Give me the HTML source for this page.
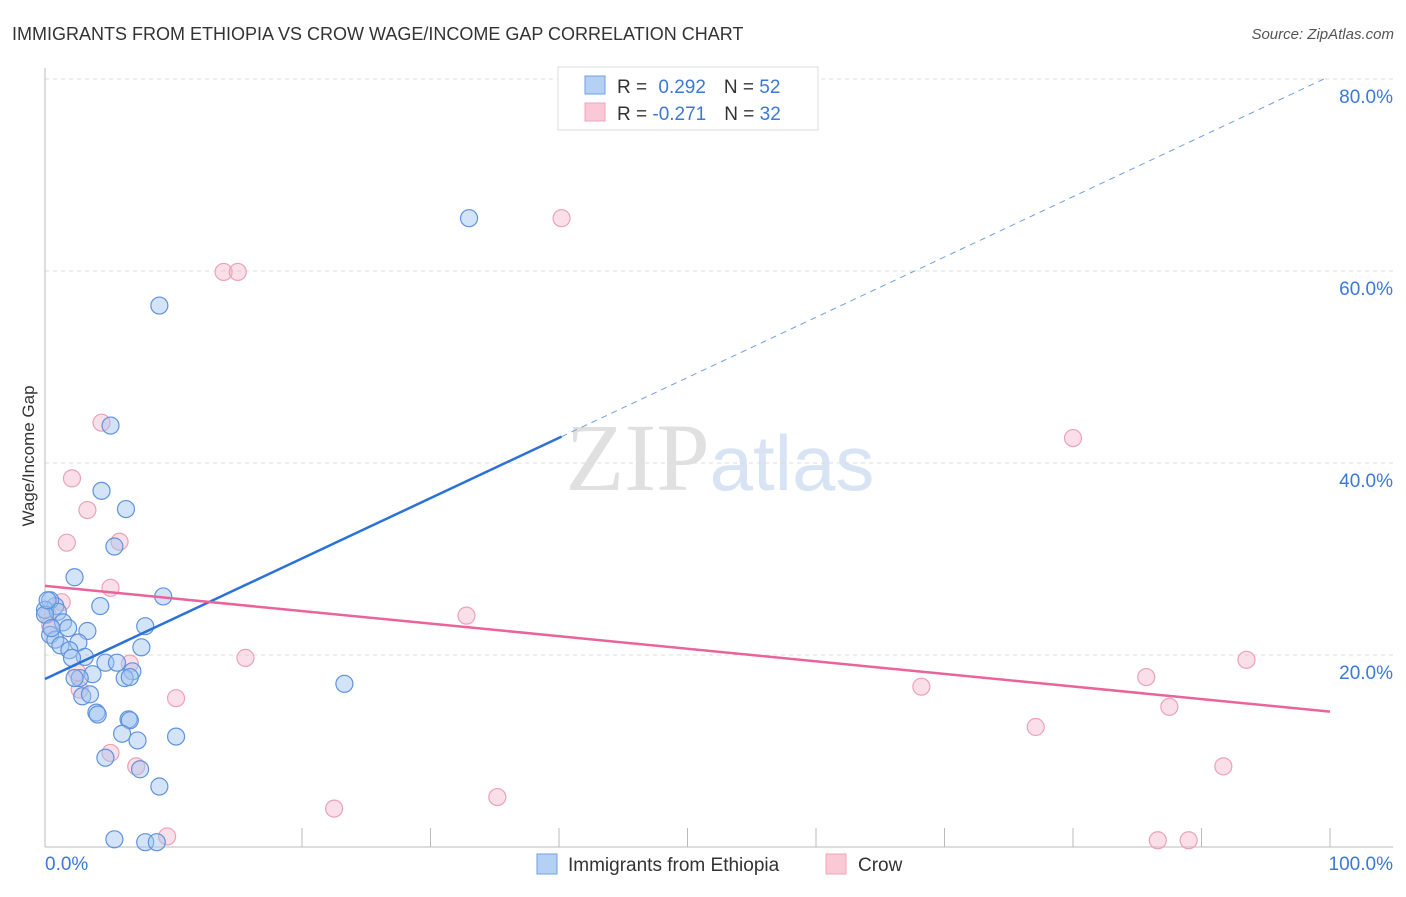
<!DOCTYPE html>
<html><head><meta charset="utf-8">
<style>
body{margin:0;background:#fff;font-family:"Liberation Sans",sans-serif;}
svg text{font-family:"Liberation Sans",sans-serif;}
</style></head>
<body>
<svg id="chart" width="1406" height="892" viewBox="0 0 1406 892" xmlns="http://www.w3.org/2000/svg">
<text x="12" y="40" font-size="18" fill="#333">IMMIGRANTS FROM ETHIOPIA VS CROW WAGE/INCOME GAP CORRELATION CHART</text>
<text x="1394" y="39" font-size="15" fill="#555" text-anchor="end" font-style="italic">Source: ZipAtlas.com</text>
<text x="720" y="490" font-size="96" text-anchor="middle" fill="#ddd" opacity="0.7"><tspan font-family="Liberation Serif" fill="#d4d4d4">ZIP</tspan><tspan fill="#c8daf0" font-size="78">atlas</tspan></text>
<text transform="translate(34,456) rotate(-90)" font-size="17" fill="#333" text-anchor="middle">Wage/Income Gap</text>
<g id="grid"></g>
<g id="axes"></g>
<g id="points"></g>
<g id="lines"></g>
<g>
<rect x="558" y="67" width="260" height="63" fill="#fff" stroke="#ddd"/>
<rect x="585" y="76" width="20" height="18" fill="#b5d0f5" stroke="#6f9fe0"/>
<rect x="585" y="103" width="20" height="18" fill="#fbc8d6" stroke="#eda5bb"/>
<text x="617" y="93" font-size="19" fill="#333">R = <tspan fill="#3b78d8" dx="6">0.292</tspan><tspan dx="18" fill="#333">N = </tspan><tspan fill="#3b78d8">52</tspan></text>
<text x="617" y="120" font-size="19" fill="#333">R = <tspan fill="#3b78d8">-0.271</tspan><tspan dx="18" fill="#333">N = </tspan><tspan fill="#3b78d8">32</tspan></text>
</g>
<g>
<rect x="537" y="854" width="20" height="20" fill="#b5d0f5" stroke="#6f9fe0"/>
<text x="568" y="871" font-size="19" fill="#333">Immigrants from Ethiopia</text>
<rect x="826" y="854" width="20" height="20" fill="#fbc8d6" stroke="#eda5bb"/>
<text x="858" y="871" font-size="19" fill="#333">Crow</text>
</g>
</svg>
<script>
const yTicks=[20,40,60,80];
const yTickLabels=["20.0%","40.0%","60.0%","80.0%"];
const xTickLabels=["0.0%","100.0%"];
const blueX=[33.0,8.9,5.1,4.4,6.3,5.4,2.3,9.2,4.3,0.8,0.4,0.0,1.0,1.4,1.8,3.3,7.8,0.4,0.8,1.2,2.6,1.9,3.1,2.1,7.5,4.7,5.6,6.8,3.7,2.7,2.3,6.2,6.6,23.3,2.9,3.5,4.0,4.1,6.5,6.6,6.0,7.2,10.2,4.7,7.4,8.9,5.4,7.8,8.7,0.0,0.2,0.5];
const blueY=[65.5,56.4,43.9,37.1,35.2,31.3,28.1,26.1,25.1,25.1,25.7,24.7,24.5,23.4,22.8,22.5,23.0,22.1,21.6,21.0,21.3,20.5,19.8,19.7,20.8,19.2,19.2,18.3,18.0,17.6,17.6,17.6,17.7,17.0,15.7,15.9,14.0,13.8,13.3,13.2,11.8,11.1,11.5,9.3,8.1,6.3,0.8,0.5,0.5,24.2,25.7,22.8];
const pinkX=[40.2,13.9,15.0,4.4,2.1,3.3,1.7,5.8,5.1,1.3,0.2,0.4,32.8,15.6,6.6,2.5,2.7,10.2,68.2,80.0,85.7,87.5,93.5,77.1,91.7,5.1,7.1,22.5,35.2,9.5,86.6,89.0];
const pinkY=[65.5,59.9,59.9,44.2,38.4,35.1,31.7,31.8,27.0,25.5,24.2,23.1,24.1,19.7,19.1,18.2,16.4,15.5,16.7,42.6,17.7,14.6,19.5,12.5,8.4,9.8,8.4,4.0,5.2,1.1,0.7,0.7];
const blueTrend=[17.5,80.3];
const pinkTrend=[27.2,14.1];
const NS="http://www.w3.org/2000/svg";
const X0=45,X1=1330,Y0=847,PPY=9.6;
function sx(v){return X0+(X1-X0)*v/100;}
function sy(v){return Y0-v*PPY;}
function mk(tag,attrs,parent){const e=document.createElementNS(NS,tag);for(const k in attrs)e.setAttribute(k,attrs[k]);document.getElementById(parent).appendChild(e);return e;}
yTicks.forEach((t,i)=>{
 const g=mk('line',{x1:45,x2:1393,y1:sy(t),y2:sy(t),stroke:'#ddd','stroke-dasharray':'4,4'},'grid');
 
 
 const l=mk('text',{x:1393,y:sy(t)+24,'font-size':19,fill:'#3b78d8','text-anchor':'end'},'grid');
 l.textContent=yTickLabels[i];
 
 
});
const ax=mk('line',{x1:45,x2:1393,y1:847,y2:847,stroke:'#bbb'},'axes');


const ay=mk('line',{x1:45,x2:45,y1:68,y2:847,stroke:'#bbb'},'axes');


for(let i=2;i<=10;i++){
 const t=mk('line',{x1:sx(i*10),x2:sx(i*10),y1:828,y2:847,stroke:'#bbb'},'axes');
 
 
}
const xl0=mk('text',{x:45,y:870,'font-size':19,fill:'#3b78d8'},'axes');
xl0.textContent=xTickLabels[0];


const xl1=mk('text',{x:1393,y:870,'font-size':19,fill:'#3b78d8','text-anchor':'end'},'axes');
xl1.textContent=xTickLabels[1];


pinkX.forEach((x,i)=>{
 const c=mk('circle',{cx:sx(x),cy:sy(pinkY[i]),r:8.5,fill:'rgba(246,176,198,0.4)',stroke:'#eba2b8','stroke-width':1.2},'points');
 
 
});
blueX.forEach((x,i)=>{
 const c=mk('circle',{cx:sx(x),cy:sy(blueY[i]),r:8.5,fill:'rgba(160,196,240,0.45)',stroke:'#5f93dd','stroke-width':1.2},'points');
 
 
});
const bslope=(blueTrend[1]-blueTrend[0])/100;
const bl=mk('line',{x1:sx(0),y1:sy(blueTrend[0]),x2:sx(40.2),y2:sy(blueTrend[0]+bslope*40.2),stroke:'#2a72d8','stroke-width':2.5},'lines');


const bd=mk('line',{x1:sx(40.2),y1:sy(blueTrend[0]+bslope*40.2),x2:sx(99.6),y2:sy(blueTrend[0]+bslope*99.6),stroke:'#6f9fe0','stroke-width':1,'stroke-dasharray':'6,5'},'lines');


const pl=mk('line',{x1:sx(0),y1:sy(pinkTrend[0]),x2:sx(100),y2:sy(pinkTrend[1]),stroke:'#e8649a','stroke-width':2.5},'lines');


</script>
</body></html>
